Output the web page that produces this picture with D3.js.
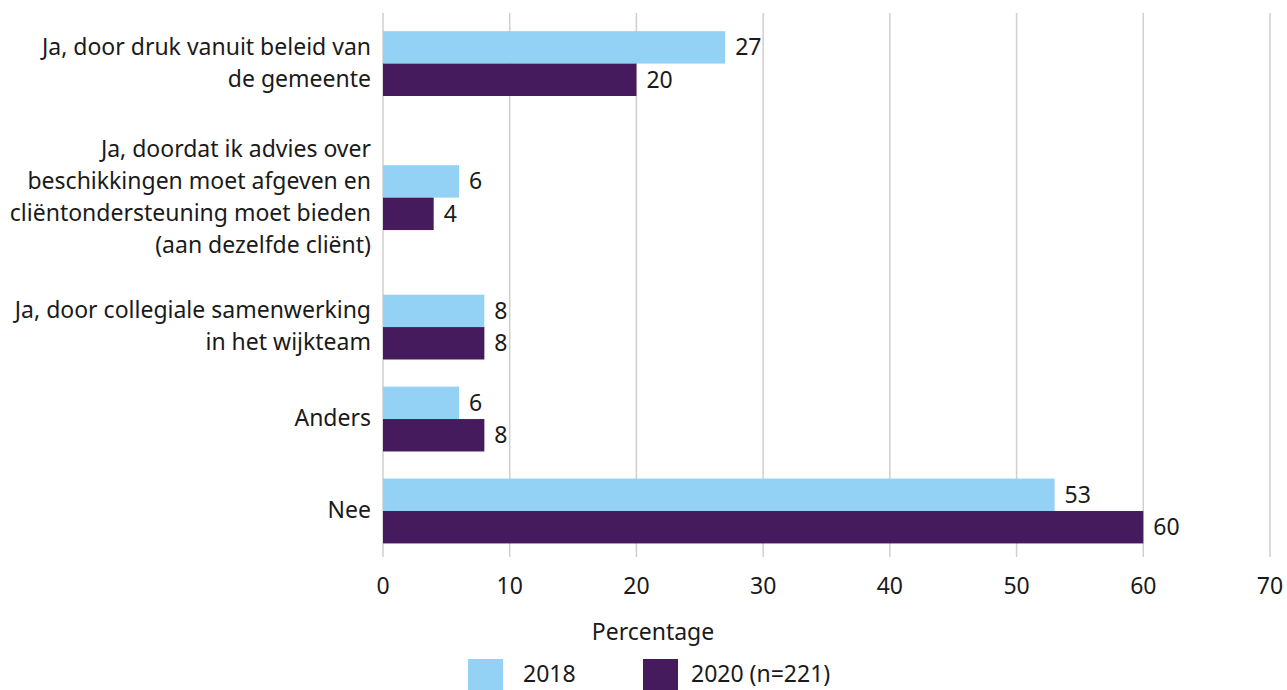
<!DOCTYPE html>
<html>
<head>
<meta charset="utf-8">
<script src="https://cdn.jsdelivr.net/npm/d3@7"></script>
<style>
  body { margin: 0; background: #fff; }
  text { font-family: "Noto Sans", sans-serif; fill: #1a1a1a; }
</style>
</head>
<body>
<svg id="chart" width="1287" height="690"></svg>
<script>
'use strict'

// data
const categories = [
  ["Ja, door druk vanuit beleid van", "de gemeente"],
  ["Ja, doordat ik advies over", "beschikkingen moet afgeven en", "cliëntondersteuning moet bieden", "(aan dezelfde cliënt)"],
  ["Ja, door collegiale samenwerking", "in het wijkteam"],
  ["Anders"],
  ["Nee"]
]
const values2018 = [27, 6, 8, 6, 53]
const values2020 = [20, 4, 8, 8, 60]
const seriesNames = ["2018", "2020 (n=221)"]
const xTicks = [0, 10, 20, 30, 40, 50, 60, 70]
const axisTitle = "Percentage"

const colors = ["#93d2f4", "#451b5d"]
const fontSize = 23
const lineH = 32

const svg = d3.select("#chart")
const margin = {top: 13, right: 17, bottom: 133, left: 383}
const width = 1287 - margin.left - margin.right
const height = 690 - margin.top - margin.bottom

const g = svg.append("g").attr("transform", `translate(${margin.left},${margin.top})`)

const x = d3.scaleLinear().domain([0, 70]).range([0, width])

// rows with taller labels get a little more room
const rowWeight = [2.2, 3.63, 2, 2, 2]
const rowEdges = d3.cumsum([0, ...rowWeight])
const yUnit = d3.scaleLinear().domain([0, d3.sum(rowWeight)]).range([0, height])
const rowCenter = i => yUnit((rowEdges[i] + rowEdges[i + 1]) / 2)
const barH = yUnit(0.705) - yUnit(0)

// gridlines
g.append("g").selectAll("line").data(xTicks).join("line")
  .attr("x1", d => x(d)).attr("x2", d => x(d))
  .attr("y1", 0).attr("y2", height)
  .attr("stroke", "#cfcfcf").attr("stroke-width", 1.5)

const rows = categories.map((c, i) => ({label: c, v: [values2018[i], values2020[i]], i}))

rows.forEach(r => {
  const cy = rowCenter(r.i)
  r.v.forEach((v, s) => {
    const y0 = s === 0 ? cy - barH : cy
    g.append("rect")
      .attr("x", x(0)).attr("y", y0)
      .attr("width", x(v) - x(0)).attr("height", barH)
      .attr("fill", colors[s])
    g.append("text")
      .attr("x", x(v) + 10).attr("y", y0 + barH / 2)
      .attr("dy", "0.35em").attr("font-size", fontSize)
      .text(v)
  })
  const t = g.append("text")
    .attr("text-anchor", "end").attr("font-size", fontSize)
    .attr("x", -12)
    .attr("y", cy - (r.label.length - 1) * lineH / 2 - 1)
  r.label.forEach((l, k) => {
    t.append("tspan").attr("x", -12).attr("dy", k === 0 ? "0.35em" : lineH).text(l)
  })
})

// x axis labels
g.append("g").selectAll("text").data(xTicks).join("text")
  .attr("x", d => x(d)).attr("y", height + 37)
  .attr("text-anchor", "middle").attr("font-size", fontSize)
  .text(d => d)

g.append("text")
  .attr("x", 653 - margin.left).attr("y", height + 83)
  .attr("text-anchor", "middle").attr("font-size", fontSize)
  .text(axisTitle)

// legend
const legend = svg.append("g").attr("transform", "translate(468,659)")
const swatchX = [0, 175]
const labelX = [55, 223]
seriesNames.forEach((n, s) => {
  legend.append("rect").attr("x", swatchX[s]).attr("y", 0)
    .attr("width", 35).attr("height", 32).attr("fill", colors[s])
  legend.append("text").attr("x", labelX[s]).attr("y", 15)
    .attr("dy", "0.35em").attr("font-size", fontSize).text(n)
})
</script>
</body>
</html>
